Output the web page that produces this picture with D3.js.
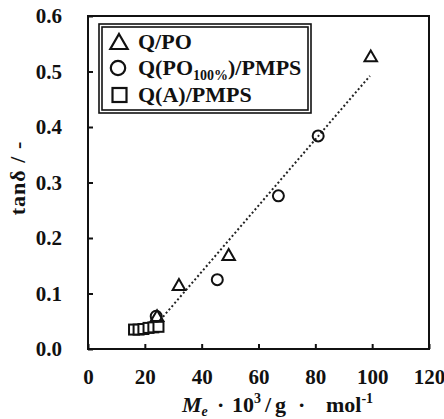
<!DOCTYPE html>
<html>
<head>
<meta charset="utf-8">
<script src="https://cdn.jsdelivr.net/npm/d3@7"></script>
<style>
  body { margin: 0; background: #fff; }
  text { font-family: "Liberation Serif", "Times New Roman", serif; font-weight: bold; fill: #111; }
</style>
</head>
<body>
<svg id="chart" width="444" height="419"></svg>
<script>
// data
const triX = [24.3, 32, 49.5, 99.5];
const triY = [0.057, 0.113, 0.167, 0.525];
const circX = [24, 45.5, 67, 81];
const circY = [0.059, 0.125, 0.276, 0.384];
const sqX = [16.2, 17.8, 19.5, 21.3, 23, 24.8];
const sqY = [0.035, 0.035, 0.036, 0.038, 0.039, 0.040];
const trendX = [26.4, 99.2];
const trendY = [0.058, 0.492];
const xTicks = [0, 20, 40, 60, 80, 100, 120];
const yTicks = [0, 0.1, 0.2, 0.3, 0.4, 0.5, 0.6];
const legendLabels = ['Q/PO', 'Q(PO100%)/PMPS', 'Q(A)/PMPS'];

const margin = {top: 16, right: 15, bottom: 70, left: 88};
const width = 444 - margin.left - margin.right;
const height = 419 - margin.top - margin.bottom;

const svg = d3.select('#chart');
const g = svg.append('g')
  .attr('transform', 'translate(' + margin.left + ',' + margin.top + ')');

const x = d3.scaleLinear().domain([0, 120]).range([0, width]);
const y = d3.scaleLinear().domain([0, 0.6]).range([height, 0]);

const xAxis = d3.axisBottom(x).tickValues(xTicks).tickFormat(d3.format('d'))
  .tickSizeInner(-5).tickSizeOuter(0).tickPadding(20);
const yAxis = d3.axisLeft(y).tickValues(yTicks).tickFormat(d3.format('.1f'))
  .tickSizeInner(-5).tickSizeOuter(0).tickPadding(26);

g.append('g')
  .attr('transform', 'translate(0,' + height + ')')
  .call(xAxis)
  .call(s => s.select('.domain').remove())
  .call(s => s.selectAll('line').attr('stroke', '#111').attr('stroke-width', 2))
  .call(s => s.selectAll('text').style('font-size', '21px'));

g.append('g')
  .call(yAxis)
  .call(s => s.select('.domain').remove())
  .call(s => s.selectAll('line').attr('stroke', '#111').attr('stroke-width', 2))
  .call(s => s.selectAll('text').style('font-size', '21px'));

// frame
g.append('rect')
  .attr('x', 0).attr('y', 0)
  .attr('width', width).attr('height', height)
  .attr('fill', 'none').attr('stroke', '#111').attr('stroke-width', 2);

// trend line
g.append('line')
  .attr('x1', x(trendX[0])).attr('y1', y(trendY[0]))
  .attr('x2', x(trendX[1])).attr('y2', y(trendY[1]))
  .attr('stroke', '#222').attr('stroke-width', 2)
  .attr('stroke-dasharray', '2,2.4');

const tri = d3.symbol().type(d3.symbolTriangle).size(68);

g.selectAll('.sq')
  .data(sqX.map((d, i) => [d, sqY[i]]))
  .enter().append('rect')
  .attr('x', d => x(d[0]) - 5)
  .attr('y', d => y(d[1]) - 5)
  .attr('width', 10).attr('height', 10)
  .attr('fill', '#fff').attr('stroke', '#111').attr('stroke-width', 2);

g.selectAll('.circ')
  .data(circX.map((d, i) => [d, circY[i]]))
  .enter().append('circle')
  .attr('cx', d => x(d[0]))
  .attr('cy', d => y(d[1]))
  .attr('r', 5.5)
  .attr('fill', 'none').attr('stroke', '#111').attr('stroke-width', 2);

g.selectAll('.tri')
  .data(triX.map((d, i) => [d, triY[i]]))
  .enter().append('path')
  .attr('d', tri)
  .attr('transform', d => 'translate(' + x(d[0]) + ',' + y(d[1]) + ')')
  .attr('fill', 'none').attr('stroke', '#111').attr('stroke-width', 2);

// legend
const lg = svg.append('g').attr('transform', 'translate(99,24)');
lg.append('rect').attr('x', 0).attr('y', 0).attr('width', 212).attr('height', 89)
  .attr('fill', '#fff').attr('stroke', '#111').attr('stroke-width', 1.6);
lg.append('rect').attr('x', 3).attr('y', 3).attr('width', 206).attr('height', 83)
  .attr('fill', 'none').attr('stroke', '#111').attr('stroke-width', 1.6);

lg.append('path')
  .attr('d', d3.symbol().type(d3.symbolTriangle).size(130)())
  .attr('transform', 'translate(20,20)')
  .attr('fill', 'none').attr('stroke', '#111').attr('stroke-width', 2.2);
lg.append('circle').attr('cx', 19).attr('cy', 44).attr('r', 7.2)
  .attr('fill', 'none').attr('stroke', '#111').attr('stroke-width', 2.2);
lg.append('rect').attr('x', 13.5).attr('y', 64).attr('width', 14).attr('height', 14)
  .attr('fill', 'none').attr('stroke', '#111').attr('stroke-width', 2.2);

lg.append('text').attr('x', 39).attr('y', 25).style('font-size', '22px').text(legendLabels[0]);
const t2 = lg.append('text').attr('x', 39).attr('y', 51).style('font-size', '22px');
t2.append('tspan').text('Q(PO');
t2.append('tspan').attr('dy', 5).style('font-size', '14px').text('100%');
t2.append('tspan').attr('dy', -5).text(')/PMPS');
lg.append('text').attr('x', 39).attr('y', 78).style('font-size', '22px').text(legendLabels[2]);

// axis titles
svg.append('text')
  .attr('transform', 'translate(25,178) rotate(-90)')
  .attr('text-anchor', 'middle')
  .style('font-size', '22px')
  .style('letter-spacing', '1px')
  .text('tanδ / -');

const xt = svg.append('text').attr('y', 412).style('font-size', '22px');
xt.append('tspan').attr('x', 182).style('font-style', 'italic').text('M');
xt.append('tspan').attr('dy', 4).style('font-style', 'italic').style('font-size', '14px').text('e');
xt.append('tspan').attr('x', 217).attr('dy', -4).text('·');
xt.append('tspan').attr('x', 232).text('10');
xt.append('tspan').attr('dy', -9).style('font-size', '14px').text('3');
xt.append('tspan').attr('x', 265).attr('dy', 9).text('/');
xt.append('tspan').attr('x', 275).text('g');
xt.append('tspan').attr('x', 298).text('·');
xt.append('tspan').attr('x', 326).text('mol');
xt.append('tspan').attr('dy', -9).style('font-size', '14px').text('-1');
</script>
</body>
</html>
